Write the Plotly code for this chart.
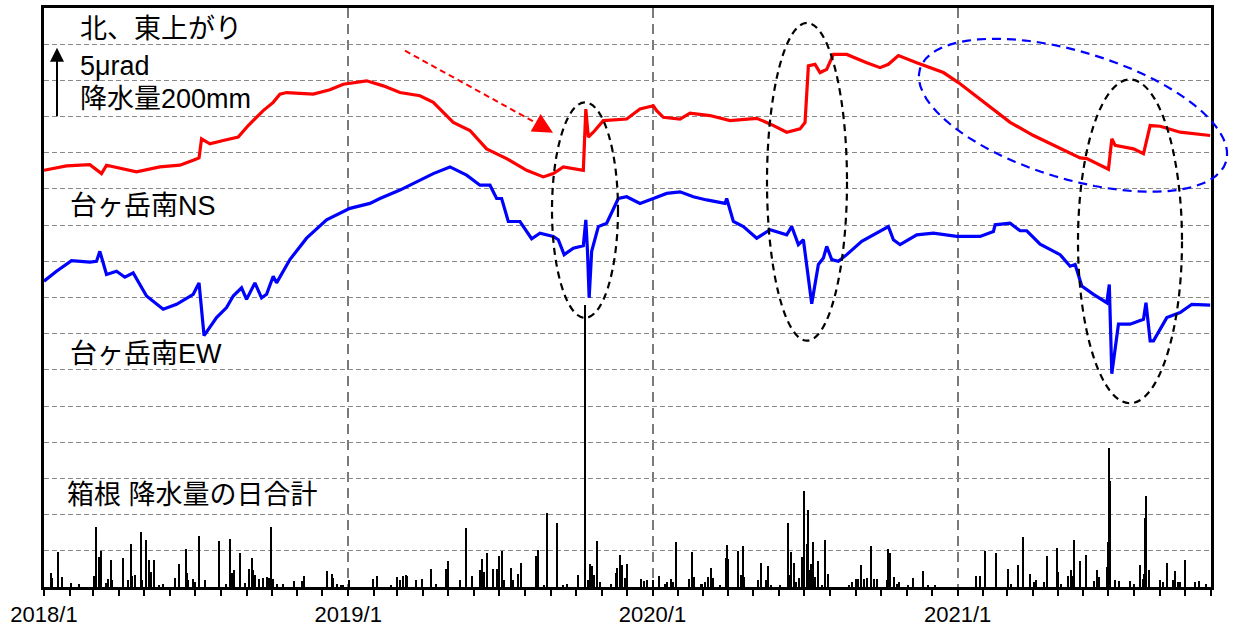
import math
import plotly.graph_objects as go

# ---------------- data ----------------
# Tilt, 台ヶ岳南 NS (μrad, arbitrary offset)
ns_dates = ["2018-01-01","2018-01-28","2018-02-25","2018-03-11","2018-03-17","2018-04-22","2018-05-20",
            "2018-06-13","2018-06-29","2018-07-06","2018-07-09","2018-07-19","2018-08-04","2018-08-22",
            "2018-09-03","2018-09-21","2018-10-03","2018-10-11","2018-10-19","2018-11-20","2018-12-10",
            "2018-12-26","2019-01-23","2019-02-12","2019-03-04","2019-03-28","2019-04-13","2019-05-07",
            "2019-05-27","2019-06-16","2019-07-10","2019-08-03","2019-08-23","2019-09-04","2019-09-16",
            "2019-10-10","2019-10-13","2019-10-16","2019-10-22","2019-11-03","2019-12-01","2019-12-17",
            "2020-01-02","2020-01-06","2020-01-14","2020-02-03","2020-02-15","2020-03-10","2020-04-03",
            "2020-05-05","2020-05-21","2020-06-10","2020-06-26","2020-07-02","2020-07-06","2020-07-14",
            "2020-07-20","2020-07-28","2020-08-05","2020-08-21","2020-09-14","2020-09-30","2020-10-10",
            "2020-10-22","2020-11-13","2020-12-15","2021-01-02","2021-02-13","2021-03-05","2021-04-02",
            "2021-04-30","2021-05-28","2021-06-05","2021-07-01","2021-07-05","2021-07-09","2021-07-31",
            "2021-08-12","2021-08-20","2021-09-01","2021-09-25","2021-10-31"]
ns_vals = [28.79,29.09,29.18,28.56,29.14,28.68,29.02,
           29.14,29.48,29.64,30.96,30.62,30.85,31.08,
           31.88,32.91,33.48,34.05,34.16,34.05,34.35,
           34.73,34.97,34.62,34.16,33.94,33.48,32.10,
           31.54,30.27,29.59,28.79,28.33,28.56,29.02,
           28.79,33.02,31.08,31.42,32.22,32.33,33.02,
           33.25,32.91,32.45,32.33,32.74,32.57,32.22,
           32.38,31.99,31.42,31.65,32.10,36.00,36.11,
           35.54,35.76,36.79,36.79,36.22,35.88,36.11,
           36.72,36.22,35.54,34.85,33.02,32.10,31.19,
           30.39,29.64,29.59,28.86,30.96,30.51,30.27,
           29.93,31.88,31.83,31.42,31.19]

# Tilt, 台ヶ岳南 EW (μrad, arbitrary offset)
ew_dates = ["2018-01-01","2018-01-16","2018-02-03","2018-02-25","2018-03-05","2018-03-09","2018-03-17",
            "2018-03-29","2018-04-08","2018-04-18","2018-05-04","2018-05-24","2018-06-09","2018-06-29",
            "2018-07-06","2018-07-08","2018-07-12","2018-07-27","2018-08-08","2018-08-16","2018-08-26",
            "2018-09-01","2018-09-11","2018-09-19","2018-09-25","2018-10-03","2018-10-07","2018-10-23",
            "2018-11-12","2018-12-06","2019-01-03","2019-01-27","2019-02-08","2019-03-04","2019-03-24",
            "2019-04-13","2019-05-03","2019-05-23","2019-06-08","2019-06-20","2019-06-28","2019-07-04",
            "2019-07-12","2019-07-26","2019-08-09","2019-08-19","2019-09-04","2019-09-10","2019-09-17",
            "2019-09-28","2019-10-10","2019-10-13","2019-10-15","2019-10-17","2019-10-20","2019-10-28",
            "2019-11-07","2019-11-21","2019-12-01","2019-12-17","2020-01-02","2020-01-18","2020-02-03",
            "2020-02-19","2020-03-06","2020-03-28","2020-03-30","2020-04-07","2020-04-19","2020-05-05",
            "2020-05-21","2020-06-10","2020-06-16","2020-06-24","2020-06-30","2020-07-04","2020-07-10",
            "2020-07-18","2020-07-24","2020-07-28","2020-08-03","2020-08-11","2020-08-21","2020-09-08",
            "2020-09-30","2020-10-10","2020-10-16","2020-10-24","2020-11-13","2020-12-03","2020-12-31",
            "2021-01-28","2021-02-13","2021-02-15","2021-03-05","2021-03-17","2021-03-25","2021-04-10",
            "2021-05-04","2021-05-16","2021-05-22","2021-05-30","2021-06-13","2021-06-29","2021-07-02",
            "2021-07-05","2021-07-13","2021-07-27","2021-08-12","2021-08-15","2021-08-20","2021-08-24",
            "2021-09-09","2021-09-25","2021-10-09","2021-10-31"]
ew_vals = [21.13,21.81,22.55,22.45,22.50,23.19,21.59,
           21.81,21.40,21.70,20.10,19.19,19.53,20.22,
           21.01,19.76,17.36,18.61,19.30,20.10,20.67,
           19.87,21.01,19.98,20.22,21.47,21.01,22.62,
           24.10,25.36,26.16,26.50,26.84,27.42,27.99,
           28.56,29.02,28.45,27.76,27.76,26.84,26.84,
           25.25,25.25,24.06,24.44,24.22,23.99,22.96,
           23.41,23.58,25.36,23.19,19.98,23.19,24.90,
           25.13,26.84,26.96,26.50,26.84,27.19,27.30,
           26.96,26.74,26.50,26.84,25.25,24.90,24.10,
           24.68,24.33,24.90,23.65,23.99,22.16,19.57,
           22.28,22.73,23.53,22.62,22.50,22.96,23.88,
           24.56,24.90,23.99,23.65,24.33,24.44,24.22,
           24.22,24.56,25.02,25.13,24.61,24.61,23.69,
           22.96,22.16,22.28,20.79,20.22,19.64,20.90,
           14.73,18.16,18.16,18.50,19.64,17.01,17.01,
           18.61,18.96,19.53,19.48]

# 箱根 daily precipitation (mm)
rain_dates = ["2018-01-09","2018-01-11","2018-01-18","2018-01-23","2018-02-02","2018-02-12","2018-03-02",
              "2018-03-05","2018-03-08","2018-03-10","2018-03-17","2018-03-19","2018-03-22","2018-03-24",
              "2018-04-06","2018-04-12","2018-04-16","2018-04-17","2018-04-20","2018-04-27","2018-04-29",
              "2018-05-04","2018-05-07","2018-05-09","2018-05-13","2018-05-19","2018-05-24","2018-06-07",
              "2018-06-12","2018-06-20","2018-06-22","2018-06-23","2018-06-29","2018-07-01","2018-07-06",
              "2018-07-13","2018-07-30","2018-08-07","2018-08-12","2018-08-15","2018-08-17","2018-08-24",
              "2018-08-30","2018-09-04","2018-09-07","2018-09-09","2018-09-11","2018-09-16","2018-09-21",
              "2018-09-25","2018-09-28","2018-09-30","2018-10-03","2018-10-08","2018-10-15","2018-10-28",
              "2018-11-06","2018-11-09","2018-12-06","2018-12-12","2018-12-14","2018-12-18","2018-12-23",
              "2018-12-26",
              "2019-01-02","2019-01-31","2019-02-05","2019-02-21","2019-02-28","2019-03-04","2019-03-08",
              "2019-03-11","2019-03-12","2019-03-23","2019-03-31","2019-04-10","2019-04-16","2019-04-28",
              "2019-05-01","2019-05-15","2019-05-22","2019-05-30","2019-06-08","2019-06-11","2019-06-13",
              "2019-06-16","2019-06-24","2019-06-28","2019-07-01","2019-07-04","2019-07-07","2019-07-15",
              "2019-07-18","2019-07-24","2019-07-27","2019-08-14","2019-08-17","2019-08-24","2019-08-28",
              "2019-09-08","2019-09-09","2019-09-16","2019-09-21","2019-10-04","2019-10-12","2019-10-16",
              "2019-10-18","2019-10-20","2019-10-23","2019-10-26","2019-10-30","2019-11-12","2019-11-18",
              "2019-11-20","2019-11-23","2019-11-25","2019-11-29","2019-12-02","2019-12-18","2019-12-22",
              "2019-12-25",
              "2020-01-02","2020-01-09","2020-01-16","2020-01-19","2020-01-23","2020-01-26","2020-01-29",
              "2020-02-14","2020-02-17","2020-02-20","2020-02-28","2020-03-01","2020-03-04","2020-03-08",
              "2020-03-11","2020-03-14","2020-03-22","2020-03-29","2020-03-30","2020-04-01","2020-04-13",
              "2020-04-16","2020-04-19","2020-04-20","2020-05-07","2020-05-10","2020-05-16","2020-05-19",
              "2020-05-22","2020-06-02","2020-06-11","2020-06-13","2020-06-15","2020-06-19","2020-06-21",
              "2020-06-25","2020-06-28","2020-07-01","2020-07-04","2020-07-06","2020-07-07","2020-07-09",
              "2020-07-12","2020-07-14","2020-07-18","2020-07-22","2020-07-26","2020-07-29","2020-08-24",
              "2020-08-27","2020-09-01","2020-09-04","2020-09-07","2020-09-11","2020-09-14","2020-09-19",
              "2020-09-23","2020-09-26","2020-10-08","2020-10-10","2020-10-12","2020-10-17","2020-10-20",
              "2020-10-23","2020-11-03","2020-11-08","2020-11-21","2020-11-27","2020-12-05",
              "2021-01-23","2021-01-28","2021-02-03","2021-02-16","2021-03-02","2021-03-06","2021-03-14",
              "2021-03-21","2021-03-29","2021-04-03","2021-04-05","2021-04-15","2021-04-18","2021-04-30",
              "2021-05-01","2021-05-05","2021-05-14","2021-05-17","2021-05-20","2021-05-21","2021-05-28",
              "2021-06-04","2021-06-14","2021-06-17","2021-06-20","2021-06-29","2021-06-30","2021-07-02",
              "2021-07-03","2021-07-09","2021-07-14","2021-07-27","2021-08-01","2021-08-08","2021-08-11",
              "2021-08-13","2021-08-14","2021-08-15","2021-08-19","2021-09-01","2021-09-04","2021-09-09",
              "2021-09-17","2021-09-19","2021-09-22","2021-09-25","2021-10-01","2021-10-13","2021-10-18",
              "2021-10-26"]
rain_mm = [39,25,97,28,11,7,30,
           167,83,99,11,23,74,20,
           79,19,118,30,32,153,19,
           131,74,42,74,6,9,24,
           63,104,39,19,23,14,142,
           19,128,9,134,39,46,95,
           11,49,81,48,32,23,26,
           28,26,167,23,9,7,17,
           17,30,44,35,26,7,6,
           6,
           18,23,30,6,28,20,30,
           34,31,19,21,49,9,49,
           71,20,164,30,46,78,42,
           93,49,49,85,99,19,53,
           19,37,65,85,102,6,205,
           178,69,6,9,34,780,19,
           63,57,32,128,14,9,39,
           53,88,60,26,63,23,17,
           19,
           18,30,7,14,23,14,123,
           23,97,28,7,9,14,28,
           53,25,5,79,116,77,99,
           32,113,28,20,67,19,59,
           6,6,178,32,97,67,14,
           26,83,264,120,213,46,63,
           124,28,71,6,131,37,6,
           14,23,23,60,23,25,113,
           23,23,19,106,93,28,9,
           14,5,25,44,5,3,
           30,31,99,93,49,7,60,
           139,35,14,20,14,85,109,
           42,9,31,46,31,131,71,
           88,17,48,28,54,124,384,
           292,20,17,17,9,60,23,
           35,190,252,48,19,14,67,
           19,44,14,14,74,14,17,
           9]

year_ticks = ["2018-01-01", "2019-01-01", "2020-01-01", "2021-01-01"]
year_labels = ["2018/1", "2019/1", "2020/1", "2021/1"]

FONT = "Liberation Sans, Arial, Noto Sans CJK JP, sans-serif"

# ---------------- figure ----------------
W, H = 1234, 632
L, R, T, B = 44, 23, 5, 44
PW, PH = W - L - R, H - T - B


def px(x):  # reference pixel -> paper x
    return (x - L) / PW


def py(y):  # reference pixel -> paper y
    return (H - B - y) / PH


fig = go.Figure()
fig.add_trace(go.Bar(x=rain_dates, y=rain_mm, yaxis="y2",
                     marker=dict(color="black", line=dict(width=0)),
                     width=86400000 * 1.3, hoverinfo="x+y"))
fig.add_trace(go.Scatter(x=ew_dates, y=ew_vals, mode="lines",
                         line=dict(color="#0000ff", width=3.2)))
fig.add_trace(go.Scatter(x=ns_dates, y=ns_vals, mode="lines",
                         line=dict(color="#ff0000", width=3.2)))

shapes = []
# black dashed ellipses
for (x0, x1, y0, y1) in [(552, 618, 100, 317), (767, 847, 20, 340), (1078, 1182, 77, 403)]:
    shapes.append(dict(type="circle", xref="paper", yref="paper",
                       x0=px(x0), x1=px(x1), y0=py(y1), y1=py(y0),
                       line=dict(color="black", width=2.2, dash="7px,5px"), layer="above"))
# blue tilted dashed ellipse
cx, cy, a, b, ang = 1073, 113, 160, 64, math.radians(17)
pts = []
for i in range(73):
    t = 2 * math.pi * i / 72
    ex = cx + a * math.cos(t) * math.cos(ang) - b * math.sin(t) * math.sin(ang)
    ey = cy + a * math.cos(t) * math.sin(ang) + b * math.sin(t) * math.cos(ang)
    pts.append(f"{px(ex):.5f},{py(ey):.5f}")
shapes.append(dict(type="path", xref="paper", yref="paper",
                   path="M" + " L".join(pts) + " Z",
                   line=dict(color="#0000ff", width=2.2, dash="9px,6px"), layer="above"))
# red dashed arrow shaft
shapes.append(dict(type="line", xref="paper", yref="paper",
                   x0=px(405), y0=py(48), x1=px(542), y1=py(124),
                   line=dict(color="#ff0000", width=2, dash="6px,4px"), layer="above"))

annotations = [
    dict(text="", xref="paper", yref="paper", x=px(553), y=py(130.5), ax=-14, ay=-8,
         showarrow=True, arrowhead=2, arrowsize=2.0, arrowwidth=2, arrowcolor="#ff0000", standoff=0),
    dict(text="", xref="paper", yref="paper", x=px(57), y=py(45), ax=0, ay=70,
         showarrow=True, arrowhead=2, arrowsize=1.4, arrowwidth=2, arrowcolor="black", standoff=0),
]
labels = [("北、東上がり", 78, 26), ("5μrad", 78, 63), ("降水量200mm", 78, 97),
          ("台ヶ岳南NS", 68, 204), ("台ヶ岳南EW", 68, 353), ("箱根 降水量の日合計", 65, 495)]
for txt, x, y in labels:
    annotations.append(dict(text=txt, xref="paper", yref="paper", x=px(x), y=py(y),
                            xanchor="left", yanchor="middle", showarrow=False,
                            font=dict(family=FONT, size=27, color="black")))

fig.update_layout(
    width=W, height=H, margin=dict(l=L, r=R, t=T, b=B),
    paper_bgcolor="white", plot_bgcolor="white", showlegend=False,
    shapes=shapes, annotations=annotations, bargap=0,
    xaxis=dict(type="date", range=["2018-01-01", "2021-11-01"],
               tickmode="array", tickvals=year_ticks, ticktext=year_labels,
               ticks="outside", ticklen=6, tickwidth=2, tickcolor="black",
               tickfont=dict(family=FONT, size=22, color="black"),
               showgrid=True, gridcolor="#7a7a7a", gridwidth=2, griddash="10px,6px",
               showline=True, linecolor="black", linewidth=2.5, mirror=True, zeroline=False,
               minor=dict(dtick="M1", tick0="2018-01-01", ticks="outside", ticklen=6,
                          tickwidth=2, tickcolor="black", showgrid=False)),
    yaxis=dict(range=[0, 40], tick0=0, dtick=2.5, showticklabels=False, ticks="",
               showgrid=True, gridcolor="#8a8a8a", gridwidth=1.2, griddash="5px,3px",
               showline=True, linecolor="black", linewidth=2.5, mirror=True, zeroline=False),
    yaxis2=dict(range=[0, 1600], overlaying="y", visible=False),
)

fig.write_html("out.html", config={"displayModeBar": False},
               post_script="document.body.style.margin='0';document.body.style.overflow='hidden';")
